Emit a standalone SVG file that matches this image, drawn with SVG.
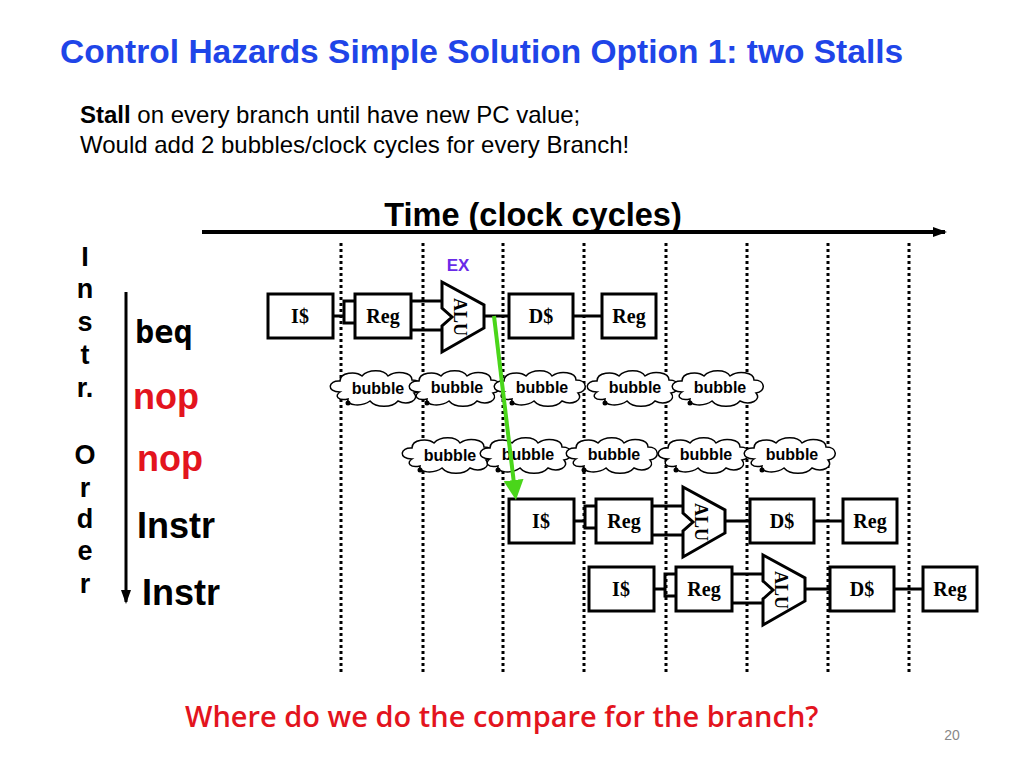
<svg xmlns="http://www.w3.org/2000/svg" xmlns:xlink="http://www.w3.org/1999/xlink" width="1024" height="768" viewBox="0 0 1024 768">
<style>
.box{fill:#fff;stroke:#000;stroke-width:3}
.w{stroke:#000;stroke-width:3;fill:none}
.st{font-family:"Liberation Serif",serif;font-weight:bold;font-size:20px;text-anchor:middle}
.bt{font-family:"Liberation Sans",sans-serif;font-weight:bold;font-size:16px;text-anchor:middle}
.dot{stroke:#000;stroke-width:3;stroke-dasharray:3 3}
.cl{fill:#fff;stroke:#000;stroke-width:1.5}
.ord{font-family:"Liberation Sans",sans-serif;font-weight:bold;font-size:27px;text-anchor:middle}
.ins{font-family:"Liberation Sans",sans-serif;font-weight:bold;font-size:36px}
.mono{font-family:"DejaVu Sans Mono","Liberation Mono","Courier New",monospace;font-weight:bold;font-size:32px}
</style>
<defs>
<marker id="ah" markerWidth="14" markerHeight="10" refX="12" refY="5" orient="auto" markerUnits="userSpaceOnUse"><path d="M0,0 L14,5 L0,10 z" fill="#000"/></marker>
<marker id="gh" markerWidth="5" markerHeight="5" refX="3" refY="2.5" orient="auto" markerUnits="strokeWidth"><path d="M0,0 L5,2.5 L0,5 z" fill="#4ad61a"/></marker>
<g id="pipe">
<path class="w" d="M333,316 H344 V301 H355 M344,316 V323 H355"/>
<path class="w" d="M411,301 H442 M411,330 H442 M484,316 H509 M573,316 H602"/>
<rect class="box" x="268" y="294" width="65" height="44"/>
<rect class="box" x="355" y="294" width="56" height="44"/>
<path class="box" d="M442,282 L484,305 L484,328 L442,352 L442,326 L452,317 L442,308 Z"/>
<rect class="box" x="509" y="294" width="64" height="44"/>
<rect class="box" x="602" y="294" width="54" height="44"/>
<text class="st" x="300" y="323">I$</text>
<text class="st" x="383" y="323">Reg</text>
<text class="st" x="541" y="323">D$</text>
<text class="st" x="629" y="323">Reg</text>
<text class="st" style="font-size:18px" transform="translate(460,317) rotate(90)" y="6">ALU</text>
</g>
<g id="cloud">
<path class="cl" d="M-38,4 C-52,4 -50,-8 -38,-7 C-38,-16 -22,-17 -16,-12 C-10,-19 6,-19 10,-12 C18,-18 34,-16 34,-8 C46,-8 46,4 36,5 C42,12 30,18 20,13 C14,20 -2,20 -8,13 C-16,19 -32,18 -30,11 C-40,13 -44,8 -38,4 Z"/>
<circle cx="-30" cy="15" r="2.5" fill="#000"/>
</g>
</defs>
<rect width="1024" height="768" fill="#fff"/>
<text x="60" y="63" font-family="Liberation Sans,sans-serif" font-weight="bold" font-size="33.5" fill="#1f45e8">Control Hazards Simple Solution Option 1: two Stalls</text>
<text x="80" y="123" font-family="Liberation Sans,sans-serif" font-size="24"><tspan font-weight="bold">Stall</tspan> on every branch until have new PC value;</text>
<text x="80" y="153" font-family="Liberation Sans,sans-serif" font-size="24">Would add 2 bubbles/clock cycles for every Branch!</text>
<text x="533" y="226" font-family="Liberation Sans,sans-serif" font-weight="bold" font-size="32.5" text-anchor="middle">Time (clock cycles)</text>
<g id="connectors">
<line x1="202" y1="232" x2="945" y2="232" stroke="#000" stroke-width="4" marker-end="url(#ah)"/>
<line x1="126" y1="292" x2="126" y2="602" stroke="#000" stroke-width="3" marker-end="url(#ah)"/>
<g class="dot">
<line x1="341" y1="243" x2="341" y2="672"/><line x1="423" y1="243" x2="423" y2="672"/>
<line x1="503" y1="243" x2="503" y2="672"/><line x1="584" y1="243" x2="584" y2="672"/>
<line x1="666" y1="243" x2="666" y2="672"/><line x1="747" y1="243" x2="747" y2="672"/>
<line x1="828" y1="243" x2="828" y2="672"/><line x1="909" y1="243" x2="909" y2="672"/>
</g>
</g>
<g id="order">
<text class="ord" x="85" y="266">I</text><text class="ord" x="85" y="298">n</text><text class="ord" x="85" y="331">s</text><text class="ord" x="85" y="364">t</text><text class="ord" x="85" y="397">r.</text>
<text class="ord" x="85" y="464">O</text><text class="ord" x="85" y="497">r</text><text class="ord" x="85" y="528">d</text><text class="ord" x="85" y="560">e</text><text class="ord" x="85" y="593">r</text>
</g>
<text class="mono" x="135" y="343">beq</text>
<text class="ins" x="133" y="409" fill="#e3141e">nop</text>
<text class="ins" x="137" y="471" fill="#e3141e">nop</text>
<text class="ins" x="137" y="538">Instr</text>
<text class="ins" x="142" y="605">Instr</text>
<text x="458" y="271" font-family="Liberation Sans,sans-serif" font-weight="bold" font-size="17" fill="#6a2be8" text-anchor="middle">EX</text>
<g id="beq"><use xlink:href="#pipe"/></g>
<g id="bubbles1">
<use xlink:href="#cloud" x="378" y="388"/><use xlink:href="#cloud" x="457" y="388"/><use xlink:href="#cloud" x="542" y="388"/><use xlink:href="#cloud" x="635" y="388"/><use xlink:href="#cloud" x="720" y="388"/>
<text class="bt" x="378" y="394">bubble</text><text class="bt" x="457" y="393">bubble</text><text class="bt" x="542" y="393">bubble</text><text class="bt" x="635" y="393">bubble</text><text class="bt" x="720" y="393">bubble</text>
</g>
<g id="bubbles2">
<use xlink:href="#cloud" x="450" y="455"/><use xlink:href="#cloud" x="528" y="455"/><use xlink:href="#cloud" x="614" y="455"/><use xlink:href="#cloud" x="706" y="455"/><use xlink:href="#cloud" x="792" y="455"/>
<text class="bt" x="450" y="461">bubble</text><text class="bt" x="528" y="460">bubble</text><text class="bt" x="614" y="460">bubble</text><text class="bt" x="706" y="460">bubble</text><text class="bt" x="792" y="460">bubble</text>
</g>
<g id="instr1"><use xlink:href="#pipe" transform="translate(241,205)"/></g>
<g id="instr2"><use xlink:href="#pipe" transform="translate(321,273)"/></g>
<line x1="494" y1="316" x2="515" y2="492" stroke="#4ad61a" stroke-width="4" marker-end="url(#gh)"/>
<text x="185" y="727" font-family="Open Sans,sans-serif" font-weight="600" font-size="29" fill="#e3141e">Where do we do the compare for the branch?</text>
<text x="952" y="740" font-family="Liberation Sans,sans-serif" font-size="14" fill="#888" text-anchor="middle">20</text>
</svg>
